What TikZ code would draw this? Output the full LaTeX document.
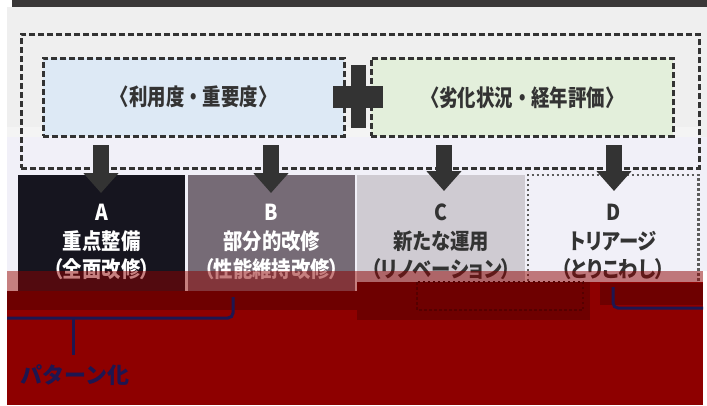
\documentclass[tikz,border=0pt]{standalone}
\usepackage{fontspec}
\newfontfamily\jp[RawFeature=+palt]{Noto Sans CJK JP}
\newfontfamily\jpt{Noto Sans CJK JP}
\usetikzlibrary{arrows.meta,calc}
\definecolor{topbar}{HTML}{3A3838}
\definecolor{bggray}{HTML}{EFEFEF}
\definecolor{bgstrip}{HTML}{F4F4F4}
\definecolor{bglav}{HTML}{F1F0F8}
\definecolor{dashc}{HTML}{333333}
\definecolor{boxblue}{HTML}{DDE9F5}
\definecolor{boxgreen}{HTML}{E3EFDB}
\definecolor{cellA}{HTML}{16151F}
\definecolor{cellB}{HTML}{766B76}
\definecolor{cellC}{HTML}{CFCBD2}
\definecolor{redA}{HTML}{8E0000}
\definecolor{redB}{HTML}{6E0000}
\definecolor{redC}{HTML}{550000}
\definecolor{navy}{HTML}{1E1650}
\newcommand{\cnd}[1]{\scalebox{0.8}[1]{#1}}
\newcommand{\cnc}[1]{\scalebox{0.88}[1]{#1}}
\tikzset{
  dashbox/.style={draw=dashc, line width=2.5pt, dash pattern=on 6pt off 3pt, inner sep=0pt},
  cellbox/.style={draw=none, inner sep=0pt, anchor=north west, minimum height=116pt},
  toptxt/.style={text=dashc, font=\jpt\bfseries\fontsize{23}{26}\selectfont},
  celltxt/.style={align=center, font=\jp\bfseries\fontsize{22}{28.5}\selectfont},
  bigarrow/.style={draw=dashc, line width=16pt, -{Triangle[width=34pt,length=20pt]}},
  bracket/.style={draw=navy, line width=3pt, rounded corners=5pt}
}
\begin{document}
\begin{tikzpicture}[x=1pt,y=-1pt]
\useasboundingbox (0,0) rectangle (707,405);
\fill[white] (0,0) rectangle (707,405);
\fill[topbar] (12,0) rectangle (707,7);
\fill[bggray] (7,7) rectangle (707,137);
\fill[bgstrip] (7,127) rectangle (700,137);
\fill[bglav] (7,137) rectangle (707,271);

% outer dashed frame
\node[dashbox, minimum width=678pt, minimum height=134pt, anchor=north west] (outer) at (20,33) {};
% inner boxes
\node[dashbox, fill=boxblue, minimum width=301pt, minimum height=78pt, anchor=north west] (use) at (42,57) {};
\node[dashbox, fill=boxgreen, minimum width=302pt, minimum height=78pt, anchor=north west] (age) at (370,57) {};
\node[toptxt] (usetxt) at (use.center) {\cnd{〈利用度・重要度〉}};
\node[toptxt] (agetxt) at (age.center) {\cnd{〈劣化状況・経年評価〉}};
% plus sign
\fill[dashc] (351,65) rectangle (366,128);
\fill[dashc] (333,86) rectangle (383,108);

% result cells
\node[cellbox, fill=cellA, minimum width=167pt] (A) at (18,175) {};
\node[cellbox, fill=cellB, minimum width=167pt] (B) at (188,175) {};
\node[cellbox, fill=cellC, minimum width=168pt] (C) at (357,175) {};
\node[cellbox, fill=bglav, minimum width=170pt] (D) at (528,175) {};
\draw[dashc!80, line width=2.5pt, dash pattern=on 2.5pt off 2.5pt] (D.south west) -- (D.north west) -- (D.north east) -- (D.south east);
\node[celltxt, text=white] (At) at ($(A.north)+(0,67)$) {\cnc{A}\\\cnc{重点整備}\\\cnc{（全面改修）}};
\node[celltxt, text=white] (Bt) at ($(B.north)+(0,67)$) {\cnc{B}\\\cnc{部分的改修}\\\cnc{（性能維持改修）}};
\node[celltxt, text=dashc] (Ct) at ($(C.north)+(0,67)$) {\cnc{C}\\\cnc{新たな運用}\\\cnc{（リノベーション）}};
\node[celltxt, text=dashc] (Dt) at ($(D.north)+(0,67)$) {\cnc{D}\\\cnc{トリアージ}\\\cnc{（とりこわし）}};

% arrows
\coordinate (a1) at (101,145); \coordinate (a2) at (101,193);
\coordinate (b1) at (271,145); \coordinate (b2) at (271,193);
\coordinate (c1) at (444,145); \coordinate (c2) at (444,191);
\coordinate (d1) at (614,145); \coordinate (d2) at (614,191);
\draw[bigarrow] (a1) -- (a2);
\draw[bigarrow] (b1) -- (b2);
\draw[bigarrow] (c1) -- (c2);
\draw[bigarrow] (d1) -- (d2);

% red overlay region
\fill[redA, opacity=0.5] (7,271) rectangle (357,291);
\fill[redA, opacity=0.5] (357,271) rectangle (703,282);
\fill[redA] (7,291) rectangle (703,405);
\fill[redA] (357,282) rectangle (703,291);
\fill[redB] (7,291) rectangle (357,310);
\fill[redB] (357,282) rectangle (590,320);
\fill[redB] (600,283) rectangle (703,305);
\draw[redC, line width=2.5pt, dash pattern=on 2.5pt off 2.5pt] (417,282) rectangle (583,310);

% brackets
\coordinate (br1) at (7,318); \coordinate (br2) at (233,318); \coordinate (br3) at (233,297);
\coordinate (st1) at (73,318); \coordinate (st2) at (73,355);
\draw[bracket] (br1) -- (br2) -- (br3);
\draw[bracket] (st1) -- (st2);
\coordinate (rb1) at (613,287); \coordinate (rb2) at (613,308); \coordinate (rb3) at (703,308);
\draw[bracket] (rb1) -- (rb2) -- (rb3);
\node[text=navy, font=\jpt\bfseries\fontsize{22}{24}\selectfont] (pat) at (75,375) {パターン化};
\end{tikzpicture}
\end{document}
